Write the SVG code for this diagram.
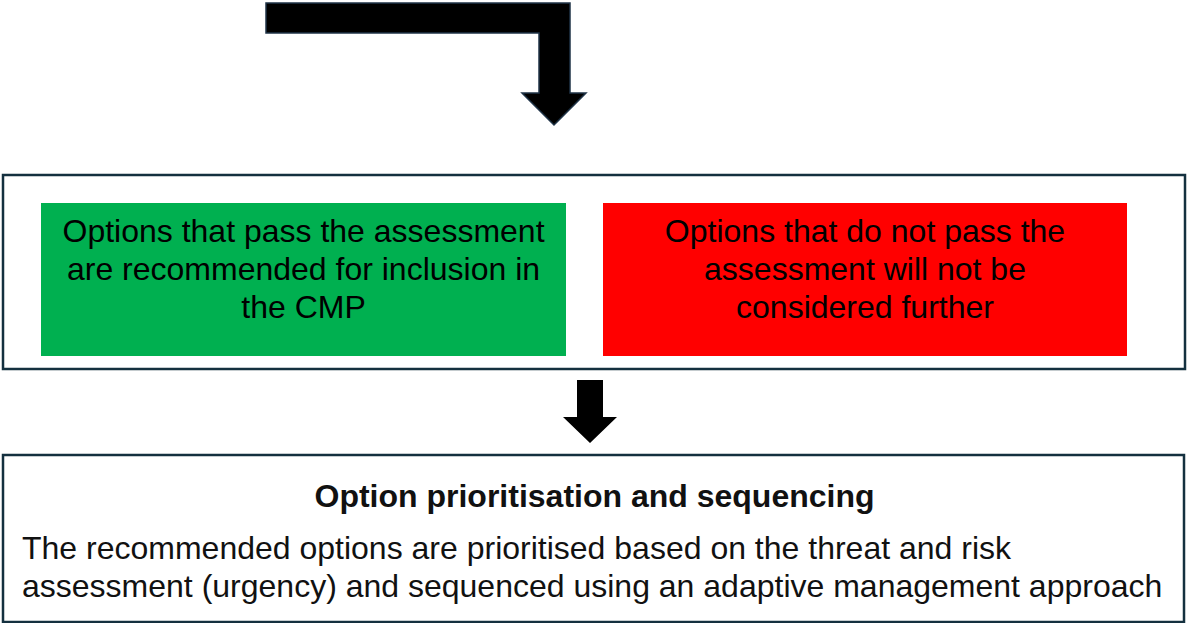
<svg xmlns="http://www.w3.org/2000/svg" width="1188" height="623" viewBox="0 0 1188 623">
<style>
.frame{fill:#fff;stroke:#14303f;stroke-width:2.5}
.arrow{fill:#000;stroke:#1f3347;stroke-width:1.5}
.t{font-family:"Liberation Sans",Arial,sans-serif;font-size:32px;fill:#000;text-anchor:middle}
.b{font-family:"Liberation Sans",Arial,sans-serif;font-size:32px;fill:#111}
</style>
<rect width="1188" height="623" fill="#fff"/>
<g id="connectors">
<path class="arrow" d="M266,3 H570 V93 H586 L554,125 L522,93 H539 V33 H266 Z"/>
<path fill="#000" d="M577,380 H603 V417 H617 L590,443 L563,417 H577 Z"/>
</g>
<g id="assessment-frame">
<rect class="frame" x="3" y="175" width="1182" height="194"/>
</g>
<g id="pass">
<rect x="41" y="203" width="525" height="153" fill="#00b050"/>
<text class="t" x="303.5" y="242">Options that pass the assessment</text>
<text class="t" x="303.5" y="280">are recommended for inclusion in</text>
<text class="t" x="303.5" y="318">the CMP</text>
</g>
<g id="fail">
<rect x="603" y="203" width="524" height="153" fill="#ff0000"/>
<text class="t" x="865" y="242">Options that do not pass the</text>
<text class="t" x="865" y="280">assessment will not be</text>
<text class="t" x="865" y="318">considered further</text>
</g>
<g id="prioritisation">
<rect class="frame" x="3" y="455" width="1181" height="167"/>
<text class="b" x="594.5" y="507" text-anchor="middle" font-weight="bold">Option prioritisation and sequencing</text>
<text class="b" x="22" y="559">The recommended options are prioritised based on the threat and risk</text>
<text class="b" x="22" y="597">assessment (urgency) and sequenced using an adaptive management approach</text>
</g>
</svg>
